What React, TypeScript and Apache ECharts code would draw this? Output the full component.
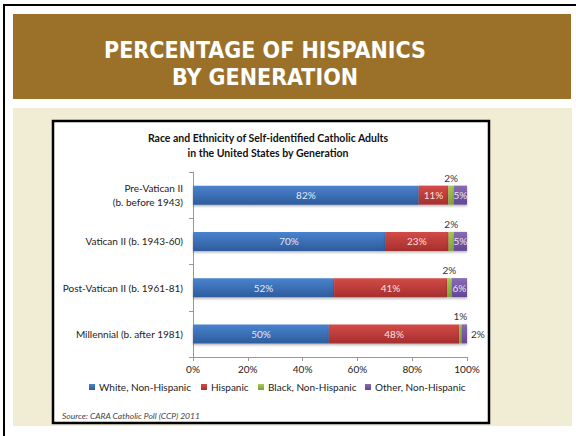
import React, { useEffect, useRef } from "react";
import * as echarts from "echarts";

const categories = [
  "Pre-Vatican II\n(b. before 1943)",
  "Vatican II (b. 1943-60)",
  "Post-Vatican II (b. 1961-81)",
  "Millennial (b. after 1981)",
];
const seriesNames = ["White, Non-Hispanic", "Hispanic", "Black, Non-Hispanic", "Other, Non-Hispanic"];
const whiteVals = [82.4, 70.1, 51.5, 49.6];
const hispanicVals = [10.8, 23.2, 41.2, 47.6];
const blackVals = [2.0, 1.9, 1.8, 0.8];
const otherVals = [4.8, 4.8, 5.5, 2.0];
const xTicks = [0, 20, 40, 60, 80, 100];

const grad = (top: string, bottom: string) =>
  new echarts.graphic.LinearGradient(0, 0, 0, 1, [
    { offset: 0, color: top },
    { offset: 1, color: bottom },
  ]);

export default function App() {
  const ref = useRef<HTMLDivElement>(null);
  useEffect(() => {
    if (!ref.current) return;
    const chart = echarts.init(ref.current, null, { renderer: "svg" });
    const font = "Lato, 'Noto Sans', sans-serif";
    const fmt = (p: any) => Math.round(p.value) + "%";
    const inside = { show: true, position: "inside", color: "rgba(255,255,255,0.88)", fontSize: 10, fontFamily: font, formatter: fmt };
    const shadow = { shadowBlur: 2, shadowOffsetY: 1.5, shadowColor: "rgba(0,0,0,0.3)" };
    const colors = [
      grad("#4A83CF", "#2D5C9C"),
      grad("#D44B48", "#A52F2D"),
      grad("#A6CB55", "#7FA239"),
      grad("#8A6BB5", "#634691"),
    ];
    const legendLefts = [89, 201, 258, 365];
    const headerFont = "bold 23px 'Liberation Sans Narrow', 'DejaVu Sans Condensed', sans-serif";
    const option: any = {
      animation: false,
      backgroundColor: "#ffffff",
      textStyle: { fontFamily: font },
      graphic: [
        { type: "rect", shape: { x: 3, y: 4, width: 573, height: 2 }, style: { fill: "#000" } },
        { type: "rect", shape: { x: 3, y: 4, width: 2, height: 432 }, style: { fill: "#000" } },
        { type: "rect", shape: { x: 13, y: 14, width: 558, height: 85 }, style: { fill: "#9B7028" } },
        { type: "rect", shape: { x: 13, y: 108, width: 559, height: 318 }, style: { fill: "#F1EDD4" } },
        {
          type: "rect",
          shape: { x: 53, y: 121, width: 436, height: 302 },
          style: { fill: "#ffffff", stroke: "#000", lineWidth: 2.5 },
        },
        {
          type: "text",
          x: 265,
          y: 50,
          style: { text: "PERCENTAGE OF HISPANICS", fill: "#ffffff", font: headerFont, textAlign: "center", textVerticalAlign: "middle" },
        },
        {
          type: "text",
          x: 265,
          y: 77,
          style: { text: "BY GENERATION", fill: "#ffffff", font: headerFont, textAlign: "center", textVerticalAlign: "middle" },
        },
        {
          type: "text",
          x: 268,
          y: 138,
          style: {
            text: "Race and Ethnicity of Self-identified Catholic Adults",
            fill: "#111",
            font: "bold 10.5px Lato, sans-serif",
            textAlign: "center",
            textVerticalAlign: "middle",
          },
        },
        {
          type: "text",
          x: 268,
          y: 153,
          style: {
            text: "in the United States by Generation",
            fill: "#111",
            font: "bold 10.5px Lato, sans-serif",
            textAlign: "center",
            textVerticalAlign: "middle",
          },
        },
        {
          type: "text",
          x: 62,
          y: 416,
          style: {
            text: "Source: CARA Catholic Poll (CCP) 2011",
            fill: "#444",
            font: "italic 8.5px Lato, sans-serif",
            textAlign: "left",
            textVerticalAlign: "middle",
          },
        },
      ],
      legend: seriesNames.map((n, i) => ({
        data: [n],
        left: legendLefts[i],
        top: 382,
        padding: 0,
        icon: "rect",
        itemWidth: 6,
        itemHeight: 6,
        itemGap: 0,
        selectedMode: false,
        textStyle: { fontSize: 10, color: "#222", fontFamily: font, padding: [0, 0, 0, -1] },
      })),
      grid: { left: 193, right: 109, top: 172, bottom: 79, containLabel: false },
      xAxis: {
        type: "value",
        min: xTicks[0],
        max: xTicks[xTicks.length - 1],
        interval: xTicks[1] - xTicks[0],
        axisLine: { show: true, lineStyle: { color: "#999" } },
        axisTick: { show: true, length: 4, lineStyle: { color: "#999" } },
        splitLine: { show: false },
        axisLabel: { formatter: "{value}%", color: "#222", fontSize: 10, fontFamily: font, margin: 7 },
      },
      yAxis: {
        type: "category",
        inverse: true,
        data: categories,
        axisLine: { show: true, lineStyle: { color: "#999" } },
        axisTick: { show: true, length: 4, lineStyle: { color: "#999" } },
        axisLabel: { color: "#222", fontSize: 10, fontFamily: font, margin: 10, lineHeight: 14, align: "right" },
      },
      series: [
        {
          name: seriesNames[0],
          type: "bar",
          stack: "t",
          barWidth: 19,
          data: whiteVals,
          itemStyle: { color: colors[0], ...shadow },
          label: inside,
        },
        {
          name: seriesNames[1],
          type: "bar",
          stack: "t",
          barWidth: 19,
          data: hispanicVals,
          itemStyle: { color: colors[1], ...shadow },
          label: inside,
        },
        {
          name: seriesNames[2],
          type: "bar",
          stack: "t",
          barWidth: 19,
          data: blackVals,
          itemStyle: { color: colors[2], ...shadow },
          label: { show: true, position: "top", distance: 3, color: "#333", fontSize: 10, fontFamily: font, formatter: fmt },
        },
        {
          name: seriesNames[3],
          type: "bar",
          stack: "t",
          barWidth: 19,
          data: otherVals.map((v, i) =>
            i === otherVals.length - 1
              ? { value: v, label: { position: "right", distance: 4, color: "#333" } }
              : v
          ),
          itemStyle: { color: colors[3], ...shadow },
          label: inside,
        },
      ],
    };
    chart.setOption(option);
    return () => chart.dispose();
  }, []);
  return <div ref={ref} style={{ position: "absolute", left: 0, top: 0, width: 576, height: 436 }} />;
}
